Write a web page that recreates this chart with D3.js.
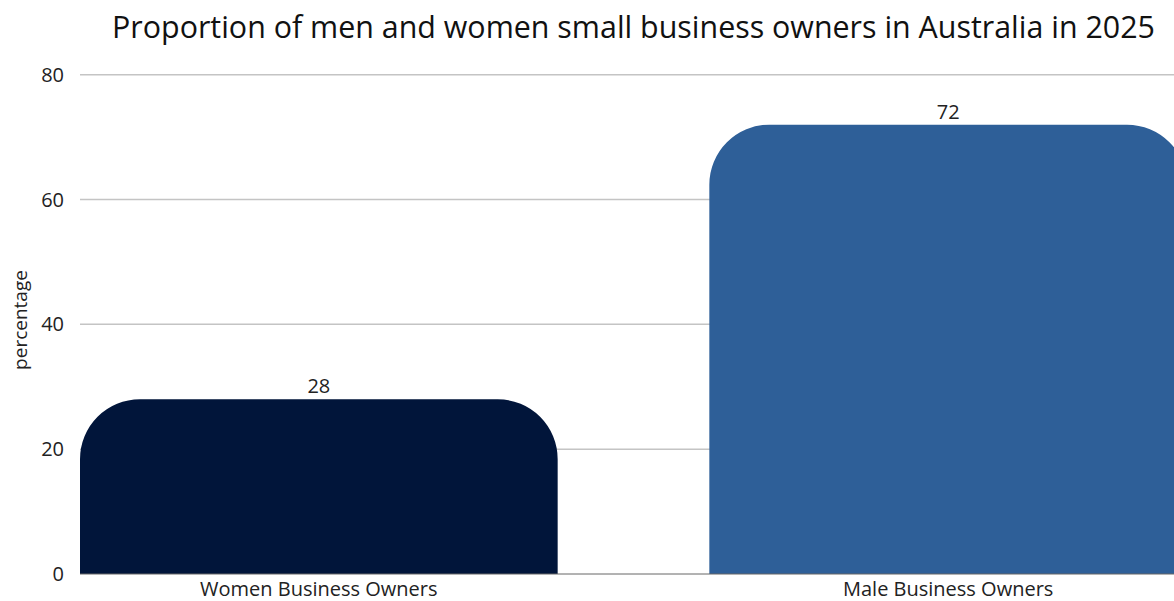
<!DOCTYPE html>
<html>
<head>
<meta charset="utf-8">
<script src="https://cdn.jsdelivr.net/npm/d3@7"></script>
<style>
  html, body { margin: 0; padding: 0; background: #fff; }
  svg { display: block; font-family: "Open Sans", "Noto Sans", sans-serif; }
</style>
</head>
<body>
<svg id="chart" width="1174" height="601"></svg>
<script>
// Share of small business owners by gender, Australia 2025 (percent)
const categories = ["Women Business Owners", "Male Business Owners"];
const values = [28, 72];
const barColors = ["#01153a", "#2e5f98"];
const yTicks = [0, 20, 40, 60, 80];
const titleText = "Proportion of men and women small business owners in Australia in 2025";
const yAxisTitle = "percentage";

const svg = d3.select("#chart");
const W = 1174, H = 601;

const x = d3.scaleBand()
  .domain(categories)
  .range([80, 1187])
  .paddingInner(0.241)
  .paddingOuter(0);

const y = d3.scaleLinear()
  .domain([0, 80])
  .range([574, 74.7]);

// horizontal gridlines
svg.append("g")
  .selectAll("line")
  .data(yTicks.filter(t => t > 0))
  .join("line")
  .attr("x1", 80)
  .attr("x2", W)
  .attr("y1", d => y(d))
  .attr("y2", d => y(d))
  .attr("stroke", "#c4c4c4")
  .attr("stroke-width", 1.5);

// y tick labels
svg.append("g")
  .selectAll("text")
  .data(yTicks)
  .join("text")
  .attr("x", 64)
  .attr("y", d => y(d))
  .attr("dy", "0.35em")
  .attr("text-anchor", "end")
  .attr("font-size", 20)
  .attr("fill", "#222")
  .text(d => d);

// bars with rounded top corners
const radius = 60;
function topRoundedBar(x0, w, yTop, yBase, r) {
  const rr = Math.min(r, w / 2, yBase - yTop);
  return `M${x0},${yBase}` +
    `L${x0},${yTop + rr}` +
    `A${rr},${rr} 0 0 1 ${x0 + rr},${yTop}` +
    `L${x0 + w - rr},${yTop}` +
    `A${rr},${rr} 0 0 1 ${x0 + w},${yTop + rr}` +
    `L${x0 + w},${yBase}Z`;
}

svg.append("g")
  .selectAll("path")
  .data(categories)
  .join("path")
  .attr("d", (c, i) => topRoundedBar(x(c), x.bandwidth(), y(values[i]), y(0), radius))
  .attr("fill", (c, i) => barColors[i]);

// value labels
svg.append("g")
  .selectAll("text")
  .data(categories)
  .join("text")
  .attr("x", c => x(c) + x.bandwidth() / 2)
  .attr("y", (c, i) => y(values[i]) - 6)
  .attr("text-anchor", "middle")
  .attr("font-size", 20)
  .attr("fill", "#222")
  .text((c, i) => values[i]);

// x axis baseline
svg.append("line")
  .attr("x1", 80)
  .attr("x2", W)
  .attr("y1", y(0))
  .attr("y2", y(0))
  .attr("stroke", "#666")
  .attr("stroke-width", 1);

// category labels
svg.append("g")
  .selectAll("text")
  .data(categories)
  .join("text")
  .attr("x", c => x(c) + x.bandwidth() / 2)
  .attr("y", 596)
  .attr("text-anchor", "middle")
  .attr("font-size", 20)
  .attr("fill", "#222")
  .text(c => c);

// y axis title
svg.append("text")
  .attr("transform", "translate(27,320) rotate(-90)")
  .attr("text-anchor", "middle")
  .attr("font-size", 19)
  .attr("fill", "#222")
  .text(yAxisTitle);

// chart title
svg.append("text")
  .attr("x", 633.5)
  .attr("y", 38)
  .attr("text-anchor", "middle")
  .attr("font-size", 30.4)
  .attr("fill", "#111")
  .text(titleText);
</script>
</body>
</html>
